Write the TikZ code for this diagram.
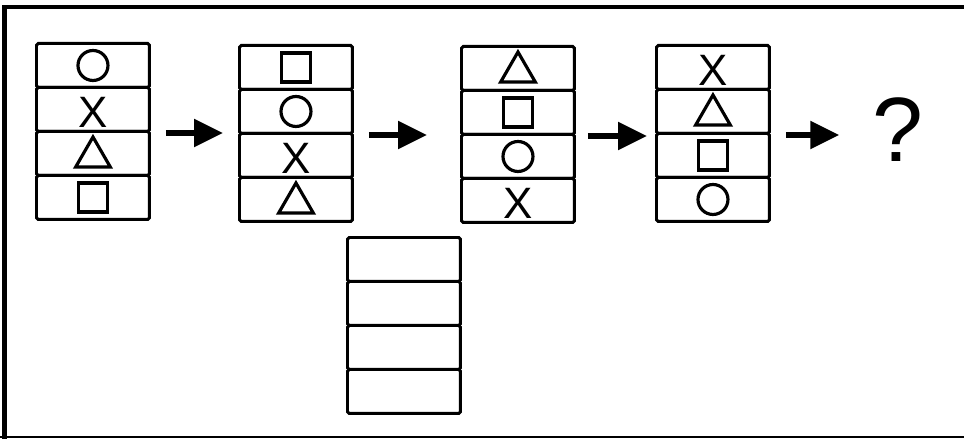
\documentclass[tikz,border=0pt]{standalone}
\usepackage{fontspec}
\setmainfont{Liberation Sans}
\usetikzlibrary{positioning,shapes.geometric,arrows.meta}
\tikzset{
    cell/.style={
        rectangle,
        draw,
        line width=1.7pt,
        rounded corners=1pt,
        minimum width=2.26cm,
        minimum height=0.88cm,
        inner sep=0pt,
        anchor=north west
    },
    circ/.style={circle, draw, line width=1.8pt, minimum size=0.6cm, inner sep=0pt, node contents={}},
    sq/.style={rectangle, draw, line width=1.8pt, minimum size=0.58cm, inner sep=0pt, node contents={}},
    tri/.style={regular polygon, regular polygon sides=3, draw, line width=1.8pt, minimum size=0.8cm, inner sep=0pt, yshift=-0.07cm, node contents={}},
    cross/.style={inner sep=0pt, yshift=-0.06cm, font=\fontsize{25}{27}\selectfont, node contents=X},
    arrow/.style={-{Triangle[length=0.58cm,width=0.54cm]}, line width=3.2pt}
}

\begin{document}
\begin{tikzpicture}[x=0.02cm, y=-0.02cm]
    \useasboundingbox (0,0) rectangle (964,439);
    % frame
    \draw[line width=2.3pt] (4.5,470) -- (4.5,7) -- (990,7);
    \draw[line width=1pt] (0,437) -- (990,437);

    % the four filled stacks
    \foreach \st/\x/\y/\a/\b/\c/\d in {one/35/42/circ/cross/tri/sq, two/238/44/sq/circ/cross/tri, three/460/45/tri/sq/circ/cross, four/655/44/cross/tri/sq/circ}
        \foreach \s [count=\i] in {\a,\b,\c,\d} {
            \node[cell] (\st-\i) at (\x,{\y+44*(\i-1)}) {};
            \node (\st-\i-sym) at (\st-\i.center) [\s];
        }

    % the empty stack
    \foreach \i in {1,...,4}
        \node[cell] (blank-\i) at (346,{236+44*(\i-1)}) {};

    \node[font=\fontsize{52}{60}\selectfont, inner sep=0pt] (qm) at (898,130) {?};

    \draw[arrow] ([xshift=0.3cm]one-2.south east) -- ([xshift=-0.3cm]two-2.south west |- one-2.south east);
    \draw[arrow] ([xshift=0.3cm]two-2.south east) -- ([xshift=-0.66cm]three-2.south west |- two-2.south east);
    \draw[arrow] ([xshift=0.24cm]three-2.south east) -- ([xshift=-0.16cm]four-2.south west |- three-2.south east);
    \draw[arrow] ([xshift=0.3cm]four-2.south east) -- ([xshift=-0.66cm]qm.west |- four-2.south east);
\end{tikzpicture}
\end{document}
